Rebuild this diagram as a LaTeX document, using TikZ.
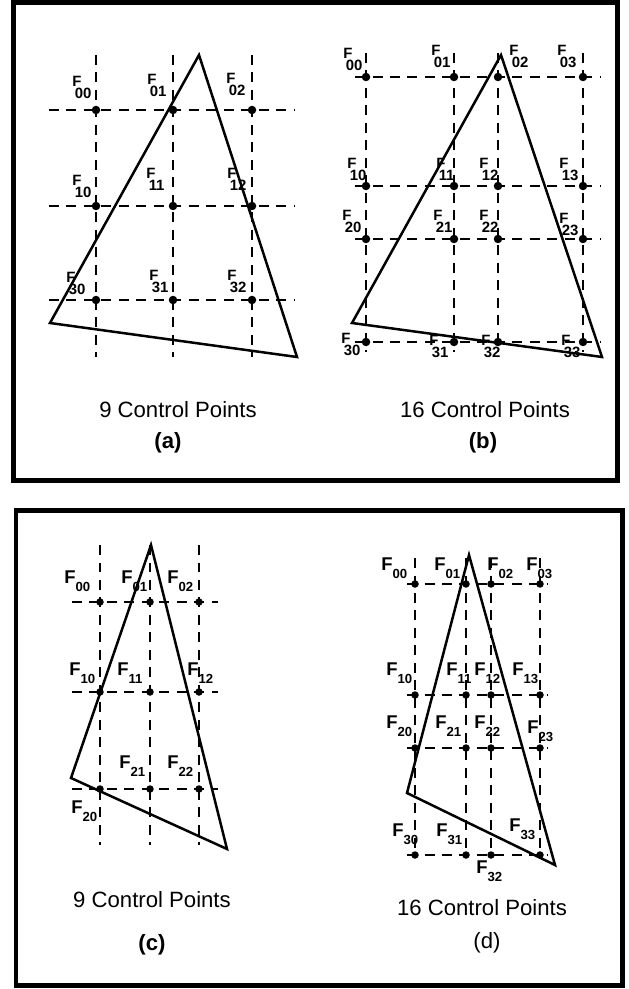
\documentclass[tikz,border=0pt]{standalone}
\usepackage{fontspec}
\setmainfont{Liberation Sans}
\usetikzlibrary{calc}
\newcommand{\Fs}[1]{F\kern-0.45em\raisebox{-0.8em}{#1}}
\newcommand{\Fb}[1]{F\raisebox{-0.45em}{\fontsize{7.5}{8}\selectfont#1}}
\tikzset{
  frame/.style={line width=0.1cm},
  tri/.style={line width=0.05cm,line join=miter},
  gridline/.style={line width=0.7pt,dash pattern=on 0.2cm off 0.15cm},
  cpt/.style={circle,fill,inner sep=0pt,minimum size=0.17cm},
  flab/.style={anchor=north west,inner sep=0pt,font=\fontsize{8.5}{10}\selectfont\bfseries},
  Flab/.style={anchor=north west,inner sep=0pt,font=\fontsize{10.5}{12}\selectfont\bfseries},
  captext/.style={inner sep=0pt,font=\fontsize{12.6}{15}\selectfont},
  tag/.style={inner sep=0pt,font=\fontsize{12.6}{15}\selectfont\bfseries}
}
\begin{document}
\begin{tikzpicture}[x=0.02cm,y=-0.02cm]
  \useasboundingbox (0,0) rectangle (628,989);
  \draw[frame] (13.5,3) rectangle (617,480);
  \draw[frame] (16,510) rectangle (622,985);

  % (a) 9 control points
  \foreach \x in {96,173,252} \draw[gridline] (\x,55) -- (\x,357);
  \foreach \y in {110,206,300} \draw[gridline] (49,\y) -- (295,\y);
  \coordinate (atop) at (199,55);
  \coordinate (aleft) at (50,323);
  \coordinate (aright) at (297,357);
  \draw[tri] (atop) -- (aleft) -- (aright) -- cycle;
  \foreach \r/\y in {0/110,1/206,3/300}
    \foreach \c/\x in {0/96,1/173,2/252}
      \node[cpt] (a\r\c) at (\x,\y) {};
  \node[flab] (la00) at (72,76) {\Fs{00}};
  \node[flab] (la01) at (147,74) {\Fs{01}};
  \node[flab] (la02) at (226,73) {\Fs{02}};
  \node[flab] (la10) at (72,175) {\Fs{10}};
  \node[flab] (la11) at (146,168) {\Fs{11}};
  \node[flab] (la12) at (227,168) {\Fs{12}};
  \node[flab] (la30) at (66,272) {\Fs{30}};
  \node[flab] (la31) at (149,270) {\Fs{31}};
  \node[flab] (la32) at (227,270) {\Fs{32}};
  \node[captext] (capa) at (178,410) {9 Control Points};
  \node[tag] (taga) at (168,443) {(a)};

  % (b) 16 control points
  \foreach \x in {366,454,498,583} \draw[gridline] (\x,53) -- (\x,352);
  \foreach \y in {77,186,239,342} \draw[gridline] (355,\y) -- (600,\y);
  \coordinate (btop) at (501,55);
  \coordinate (bleft) at (352,323);
  \coordinate (bright) at (602,357);
  \draw[tri] (btop) -- (bleft) -- (bright) -- cycle;
  \foreach \r/\y in {0/77,1/186,2/239,3/342}
    \foreach \c/\x in {0/366,1/454,2/498,3/583}
      \node[cpt] (b\r\c) at (\x,\y) {};
  \node[flab] (lb00) at (343,48) {\Fs{00}};
  \node[flab] (lb01) at (431,45) {\Fs{01}};
  \node[flab] (lb02) at (509,45) {\Fs{02}};
  \node[flab] (lb03) at (557,45) {\Fs{03}};
  \node[flab] (lb10) at (347,158) {\Fs{10}};
  \node[flab] (lb11) at (436,158) {\Fs{11}};
  \node[flab] (lb12) at (479,158) {\Fs{12}};
  \node[flab] (lb13) at (559,158) {\Fs{13}};
  \node[flab] (lb20) at (342,210) {\Fs{20}};
  \node[flab] (lb21) at (433,210) {\Fs{21}};
  \node[flab] (lb22) at (479,210) {\Fs{22}};
  \node[flab] (lb23) at (559,213) {\Fs{23}};
  \node[flab] (lb30) at (341,333) {\Fs{30}};
  \node[flab] (lb31) at (429,335) {\Fs{31}};
  \node[flab] (lb32) at (481,335) {\Fs{32}};
  \node[flab] (lb33) at (561,335) {\Fs{33}};
  \node[captext] (capb) at (485,410) {16 Control Points};
  \node[tag] (tagb) at (483,443) {(b)};

  % (c) 9 control points
  \foreach \x in {100,150,199} \draw[gridline] (\x,545) -- (\x,845);
  \foreach \y in {602,692,789} \draw[gridline] (72,\y) -- (218,\y);
  \coordinate (ctop) at (151,545);
  \coordinate (cleft) at (71,778);
  \coordinate (cright) at (227,849);
  \draw[tri] (ctop) -- (cleft) -- (cright) -- cycle;
  \foreach \r/\y in {0/602,1/692,2/789}
    \foreach \c/\x in {0/100,1/150,2/199}
      \node[cpt,minimum size=0.15cm] (c\r\c) at (\x,\y) {};
  \node[Flab] (lc00) at (64,570) {\Fb{00}};
  \node[Flab] (lc01) at (121,570) {\Fb{01}};
  \node[Flab] (lc02) at (167,570) {\Fb{02}};
  \node[Flab] (lc10) at (69,662) {\Fb{10}};
  \node[Flab] (lc11) at (117,662) {\Fb{11}};
  \node[Flab] (lc12) at (187,662) {\Fb{12}};
  \node[Flab] (lc21) at (119,755) {\Fb{21}};
  \node[Flab] (lc22) at (167,755) {\Fb{22}};
  \node[Flab] (lc20) at (71,800) {\Fb{20}};
  \node[captext] (capc) at (152,900) {9 Control Points};
  \node[tag] (tagc) at (152,945) {(c)};

  % (d) 16 control points
  \foreach \x in {415,466,491,540} \draw[gridline] (\x,558) -- (\x,858);
  \foreach \y in {584,695,748,855} \draw[gridline] (407,\y) -- (548,\y);
  \coordinate (dtop) at (469,555);
  \coordinate (dleft) at (407,793);
  \coordinate (dright) at (555,865);
  \draw[tri] (dtop) -- (dleft) -- (dright) -- cycle;
  \foreach \r/\y in {0/584,1/695,2/748,3/855}
    \foreach \c/\x in {0/415,1/466,2/491,3/540}
      \node[cpt,minimum size=0.15cm] (d\r\c) at (\x,\y) {};
  \node[Flab] (ld00) at (381,557) {\Fb{00}};
  \node[Flab] (ld01) at (434,557) {\Fb{01}};
  \node[Flab] (ld02) at (487,557) {\Fb{02}};
  \node[Flab] (ld03) at (526,557) {\Fb{03}};
  \node[Flab] (ld10) at (386,662) {\Fb{10}};
  \node[Flab] (ld11) at (446,662) {\Fb{11}};
  \node[Flab] (ld12) at (474,662) {\Fb{12}};
  \node[Flab] (ld13) at (512,662) {\Fb{13}};
  \node[Flab] (ld20) at (386,715) {\Fb{20}};
  \node[Flab] (ld21) at (435,715) {\Fb{21}};
  \node[Flab] (ld22) at (474,715) {\Fb{22}};
  \node[Flab] (ld23) at (527,720) {\Fb{23}};
  \node[Flab] (ld30) at (392,823) {\Fb{30}};
  \node[Flab] (ld31) at (436,823) {\Fb{31}};
  \node[Flab] (ld33) at (509,818) {\Fb{33}};
  \node[Flab] (ld32) at (476,860) {\Fb{32}};
  \node[captext] (capd) at (482,908) {16 Control Points};
  \node[captext] (tagd) at (487,943) {(d)};
\end{tikzpicture}
\end{document}
